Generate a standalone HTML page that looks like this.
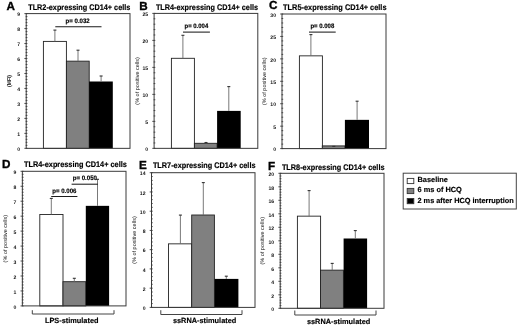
<!DOCTYPE html>
<html><head><meta charset="utf-8"><style>
html,body{margin:0;padding:0;background:#fff;}
svg{display:block;filter:blur(0.35px);}
text{font-family:"Liberation Sans", sans-serif;fill:#000;text-rendering:geometricPrecision;}
.L{font-size:11.7px;font-weight:bold;stroke:#000;stroke-width:0.35px;}
.T{font-size:8.1px;font-weight:bold;stroke:#000;stroke-width:0.18px;}
.N{font-size:5.1px;font-weight:bold;text-anchor:end;fill:#111;}
.Y{font-size:5.3px;text-anchor:middle;fill:#111;}
.YM{font-weight:bold;font-size:5.6px;}
.P{font-size:6.4px;font-weight:bold;stroke:#000;stroke-width:0.15px;}
.G{font-size:7.4px;font-weight:bold;stroke:#000;stroke-width:0.15px;}
.G2{font-size:7.5px;font-weight:bold;stroke:#000;stroke-width:0.15px;}
</style></head><body>
<svg width="520" height="327" viewBox="0 0 520 327">
<rect width="520" height="327" fill="#fff"/>
<text x="6.6" y="10.2" class="L">A</text>
<text x="28.2" y="9.5" class="T" textLength="102.1" lengthAdjust="spacingAndGlyphs">TLR2-expressing CD14+ cells</text>
<rect x="43.4" y="41.4" width="23" height="106.95" fill="#fff" stroke="#222" stroke-width="0.9"/>
<rect x="66.4" y="61.15" width="22.8" height="87.2" fill="#808080" stroke="#222" stroke-width="0.9"/>
<rect x="89.1" y="81.5" width="23.7" height="66.85" fill="#000"/>
<line x1="54.9" y1="30.1" x2="54.9" y2="41.4" stroke="#6a6a6a" stroke-width="0.9"/>
<line x1="53.4" y1="30.1" x2="56.4" y2="30.1" stroke="#333" stroke-width="1.1"/>
<line x1="78" y1="50.2" x2="78" y2="61.15" stroke="#6a6a6a" stroke-width="0.9"/>
<line x1="76.5" y1="50.2" x2="79.5" y2="50.2" stroke="#333" stroke-width="1.1"/>
<line x1="101.1" y1="76" x2="101.1" y2="81.5" stroke="#6a6a6a" stroke-width="0.9"/>
<line x1="99.6" y1="76" x2="102.6" y2="76" stroke="#333" stroke-width="1.1"/>
<rect x="26.2" y="13.6" width="103.8" height="134.75" fill="none" stroke="#3a3a3a" stroke-width="1"/>
<line x1="24.4" y1="148.35" x2="27.4" y2="148.35" stroke="#3a3a3a" stroke-width="0.9"/>
<line x1="25.7" y1="145.36" x2="27.4" y2="145.36" stroke="#3a3a3a" stroke-width="0.9"/>
<line x1="25.7" y1="142.36" x2="27.4" y2="142.36" stroke="#3a3a3a" stroke-width="0.9"/>
<line x1="25.7" y1="139.37" x2="27.4" y2="139.37" stroke="#3a3a3a" stroke-width="0.9"/>
<line x1="25.7" y1="136.37" x2="27.4" y2="136.37" stroke="#3a3a3a" stroke-width="0.9"/>
<line x1="24.4" y1="133.38" x2="27.4" y2="133.38" stroke="#3a3a3a" stroke-width="0.9"/>
<line x1="25.7" y1="130.38" x2="27.4" y2="130.38" stroke="#3a3a3a" stroke-width="0.9"/>
<line x1="25.7" y1="127.39" x2="27.4" y2="127.39" stroke="#3a3a3a" stroke-width="0.9"/>
<line x1="25.7" y1="124.39" x2="27.4" y2="124.39" stroke="#3a3a3a" stroke-width="0.9"/>
<line x1="25.7" y1="121.4" x2="27.4" y2="121.4" stroke="#3a3a3a" stroke-width="0.9"/>
<line x1="24.4" y1="118.41" x2="27.4" y2="118.41" stroke="#3a3a3a" stroke-width="0.9"/>
<line x1="25.7" y1="115.41" x2="27.4" y2="115.41" stroke="#3a3a3a" stroke-width="0.9"/>
<line x1="25.7" y1="112.42" x2="27.4" y2="112.42" stroke="#3a3a3a" stroke-width="0.9"/>
<line x1="25.7" y1="109.42" x2="27.4" y2="109.42" stroke="#3a3a3a" stroke-width="0.9"/>
<line x1="25.7" y1="106.43" x2="27.4" y2="106.43" stroke="#3a3a3a" stroke-width="0.9"/>
<line x1="24.4" y1="103.43" x2="27.4" y2="103.43" stroke="#3a3a3a" stroke-width="0.9"/>
<line x1="25.7" y1="100.44" x2="27.4" y2="100.44" stroke="#3a3a3a" stroke-width="0.9"/>
<line x1="25.7" y1="97.44" x2="27.4" y2="97.44" stroke="#3a3a3a" stroke-width="0.9"/>
<line x1="25.7" y1="94.45" x2="27.4" y2="94.45" stroke="#3a3a3a" stroke-width="0.9"/>
<line x1="25.7" y1="91.46" x2="27.4" y2="91.46" stroke="#3a3a3a" stroke-width="0.9"/>
<line x1="24.4" y1="88.46" x2="27.4" y2="88.46" stroke="#3a3a3a" stroke-width="0.9"/>
<line x1="25.7" y1="85.47" x2="27.4" y2="85.47" stroke="#3a3a3a" stroke-width="0.9"/>
<line x1="25.7" y1="82.47" x2="27.4" y2="82.47" stroke="#3a3a3a" stroke-width="0.9"/>
<line x1="25.7" y1="79.48" x2="27.4" y2="79.48" stroke="#3a3a3a" stroke-width="0.9"/>
<line x1="25.7" y1="76.48" x2="27.4" y2="76.48" stroke="#3a3a3a" stroke-width="0.9"/>
<line x1="24.4" y1="73.49" x2="27.4" y2="73.49" stroke="#3a3a3a" stroke-width="0.9"/>
<line x1="25.7" y1="70.49" x2="27.4" y2="70.49" stroke="#3a3a3a" stroke-width="0.9"/>
<line x1="25.7" y1="67.5" x2="27.4" y2="67.5" stroke="#3a3a3a" stroke-width="0.9"/>
<line x1="25.7" y1="64.51" x2="27.4" y2="64.51" stroke="#3a3a3a" stroke-width="0.9"/>
<line x1="25.7" y1="61.51" x2="27.4" y2="61.51" stroke="#3a3a3a" stroke-width="0.9"/>
<line x1="24.4" y1="58.52" x2="27.4" y2="58.52" stroke="#3a3a3a" stroke-width="0.9"/>
<line x1="25.7" y1="55.52" x2="27.4" y2="55.52" stroke="#3a3a3a" stroke-width="0.9"/>
<line x1="25.7" y1="52.53" x2="27.4" y2="52.53" stroke="#3a3a3a" stroke-width="0.9"/>
<line x1="25.7" y1="49.53" x2="27.4" y2="49.53" stroke="#3a3a3a" stroke-width="0.9"/>
<line x1="25.7" y1="46.54" x2="27.4" y2="46.54" stroke="#3a3a3a" stroke-width="0.9"/>
<line x1="24.4" y1="43.54" x2="27.4" y2="43.54" stroke="#3a3a3a" stroke-width="0.9"/>
<line x1="25.7" y1="40.55" x2="27.4" y2="40.55" stroke="#3a3a3a" stroke-width="0.9"/>
<line x1="25.7" y1="37.56" x2="27.4" y2="37.56" stroke="#3a3a3a" stroke-width="0.9"/>
<line x1="25.7" y1="34.56" x2="27.4" y2="34.56" stroke="#3a3a3a" stroke-width="0.9"/>
<line x1="25.7" y1="31.57" x2="27.4" y2="31.57" stroke="#3a3a3a" stroke-width="0.9"/>
<line x1="24.4" y1="28.57" x2="27.4" y2="28.57" stroke="#3a3a3a" stroke-width="0.9"/>
<line x1="25.7" y1="25.58" x2="27.4" y2="25.58" stroke="#3a3a3a" stroke-width="0.9"/>
<line x1="25.7" y1="22.58" x2="27.4" y2="22.58" stroke="#3a3a3a" stroke-width="0.9"/>
<line x1="25.7" y1="19.59" x2="27.4" y2="19.59" stroke="#3a3a3a" stroke-width="0.9"/>
<line x1="25.7" y1="16.59" x2="27.4" y2="16.59" stroke="#3a3a3a" stroke-width="0.9"/>
<line x1="24.4" y1="13.6" x2="27.4" y2="13.6" stroke="#3a3a3a" stroke-width="0.9"/>
<text x="20.2" y="151.05" class="N">0</text>
<text x="20.2" y="136.08" class="N">1</text>
<text x="20.2" y="121.11" class="N">2</text>
<text x="20.2" y="106.13" class="N">3</text>
<text x="20.2" y="91.16" class="N">4</text>
<text x="20.2" y="76.19" class="N">5</text>
<text x="20.2" y="61.22" class="N">6</text>
<text x="20.2" y="46.24" class="N">7</text>
<text x="20.2" y="31.27" class="N">8</text>
<text x="20.2" y="16.3" class="N">9</text>
<text x="0" y="0" class="Y YM" transform="translate(10.63,80.97) rotate(-90)" textLength="12.0" lengthAdjust="spacingAndGlyphs">(MFI)</text>
<line x1="55.3" y1="26.7" x2="101.5" y2="26.7" stroke="#1a1a1a" stroke-width="1.05"/>
<text x="65.6" y="22.8" class="P" textLength="24.14" lengthAdjust="spacingAndGlyphs">p= 0.032</text>
<text x="139.2" y="9.5" class="L">B</text>
<text x="155.9" y="9.5" class="T" textLength="102.1" lengthAdjust="spacingAndGlyphs">TLR4-expressing CD14+ cells</text>
<rect x="171.4" y="58.3" width="23" height="90.05" fill="#fff" stroke="#222" stroke-width="0.9"/>
<rect x="194.4" y="143.3" width="22.7" height="5.05" fill="#808080" stroke="#222" stroke-width="0.9"/>
<rect x="217.1" y="110.9" width="23.6" height="37.45" fill="#000"/>
<line x1="182.9" y1="35.3" x2="182.9" y2="58.3" stroke="#6a6a6a" stroke-width="0.9"/>
<line x1="181.4" y1="35.3" x2="184.4" y2="35.3" stroke="#333" stroke-width="1.1"/>
<line x1="206" y1="142.5" x2="206" y2="143.3" stroke="#6a6a6a" stroke-width="0.9"/>
<line x1="204.5" y1="142.5" x2="207.5" y2="142.5" stroke="#333" stroke-width="1.1"/>
<line x1="228.8" y1="86.6" x2="228.8" y2="110.9" stroke="#6a6a6a" stroke-width="0.9"/>
<line x1="227.3" y1="86.6" x2="230.3" y2="86.6" stroke="#333" stroke-width="1.1"/>
<rect x="154.1" y="13.4" width="103.7" height="134.95" fill="none" stroke="#3a3a3a" stroke-width="1"/>
<line x1="152.3" y1="148.35" x2="155.3" y2="148.35" stroke="#3a3a3a" stroke-width="0.9"/>
<line x1="153.6" y1="142.95" x2="155.3" y2="142.95" stroke="#3a3a3a" stroke-width="0.9"/>
<line x1="153.6" y1="137.55" x2="155.3" y2="137.55" stroke="#3a3a3a" stroke-width="0.9"/>
<line x1="153.6" y1="132.16" x2="155.3" y2="132.16" stroke="#3a3a3a" stroke-width="0.9"/>
<line x1="153.6" y1="126.76" x2="155.3" y2="126.76" stroke="#3a3a3a" stroke-width="0.9"/>
<line x1="152.3" y1="121.36" x2="155.3" y2="121.36" stroke="#3a3a3a" stroke-width="0.9"/>
<line x1="153.6" y1="115.96" x2="155.3" y2="115.96" stroke="#3a3a3a" stroke-width="0.9"/>
<line x1="153.6" y1="110.56" x2="155.3" y2="110.56" stroke="#3a3a3a" stroke-width="0.9"/>
<line x1="153.6" y1="105.17" x2="155.3" y2="105.17" stroke="#3a3a3a" stroke-width="0.9"/>
<line x1="153.6" y1="99.77" x2="155.3" y2="99.77" stroke="#3a3a3a" stroke-width="0.9"/>
<line x1="152.3" y1="94.37" x2="155.3" y2="94.37" stroke="#3a3a3a" stroke-width="0.9"/>
<line x1="153.6" y1="88.97" x2="155.3" y2="88.97" stroke="#3a3a3a" stroke-width="0.9"/>
<line x1="153.6" y1="83.57" x2="155.3" y2="83.57" stroke="#3a3a3a" stroke-width="0.9"/>
<line x1="153.6" y1="78.18" x2="155.3" y2="78.18" stroke="#3a3a3a" stroke-width="0.9"/>
<line x1="153.6" y1="72.78" x2="155.3" y2="72.78" stroke="#3a3a3a" stroke-width="0.9"/>
<line x1="152.3" y1="67.38" x2="155.3" y2="67.38" stroke="#3a3a3a" stroke-width="0.9"/>
<line x1="153.6" y1="61.98" x2="155.3" y2="61.98" stroke="#3a3a3a" stroke-width="0.9"/>
<line x1="153.6" y1="56.58" x2="155.3" y2="56.58" stroke="#3a3a3a" stroke-width="0.9"/>
<line x1="153.6" y1="51.19" x2="155.3" y2="51.19" stroke="#3a3a3a" stroke-width="0.9"/>
<line x1="153.6" y1="45.79" x2="155.3" y2="45.79" stroke="#3a3a3a" stroke-width="0.9"/>
<line x1="152.3" y1="40.39" x2="155.3" y2="40.39" stroke="#3a3a3a" stroke-width="0.9"/>
<line x1="153.6" y1="34.99" x2="155.3" y2="34.99" stroke="#3a3a3a" stroke-width="0.9"/>
<line x1="153.6" y1="29.59" x2="155.3" y2="29.59" stroke="#3a3a3a" stroke-width="0.9"/>
<line x1="153.6" y1="24.2" x2="155.3" y2="24.2" stroke="#3a3a3a" stroke-width="0.9"/>
<line x1="153.6" y1="18.8" x2="155.3" y2="18.8" stroke="#3a3a3a" stroke-width="0.9"/>
<line x1="152.3" y1="13.4" x2="155.3" y2="13.4" stroke="#3a3a3a" stroke-width="0.9"/>
<text x="148.1" y="151.05" class="N">0</text>
<text x="148.1" y="124.06" class="N">5</text>
<text x="148.1" y="97.07" class="N">10</text>
<text x="148.1" y="70.08" class="N">15</text>
<text x="148.1" y="43.09" class="N">20</text>
<text x="148.1" y="16.1" class="N">25</text>
<text x="0" y="0" class="Y" transform="translate(138.63,80.88) rotate(-90)" textLength="47.6" lengthAdjust="spacingAndGlyphs">(% of positive cells)</text>
<line x1="183" y1="32.1" x2="209.9" y2="32.1" stroke="#1a1a1a" stroke-width="1.05"/>
<text x="184.5" y="27.8" class="P" textLength="23.74" lengthAdjust="spacingAndGlyphs">p= 0.004</text>
<text x="268.9" y="9.1" class="L">C</text>
<text x="283.1" y="9.6" class="T" textLength="103.4" lengthAdjust="spacingAndGlyphs">TLR5-expressing CD14+ cells</text>
<rect x="299.4" y="55.85" width="23" height="92.75" fill="#fff" stroke="#222" stroke-width="0.9"/>
<rect x="322.3" y="145.9" width="22.7" height="2.7" fill="#808080" stroke="#222" stroke-width="0.9"/>
<rect x="344.9" y="119.85" width="24.1" height="28.75" fill="#000"/>
<line x1="310.9" y1="34.6" x2="310.9" y2="55.85" stroke="#6a6a6a" stroke-width="0.9"/>
<line x1="309.4" y1="34.6" x2="312.4" y2="34.6" stroke="#333" stroke-width="1.1"/>
<line x1="332.3" y1="146.4" x2="335.3" y2="146.4" stroke="#333" stroke-width="1.1"/>
<line x1="357.1" y1="101.2" x2="357.1" y2="119.85" stroke="#6a6a6a" stroke-width="0.9"/>
<line x1="355.6" y1="101.2" x2="358.6" y2="101.2" stroke="#333" stroke-width="1.1"/>
<rect x="282" y="14" width="104" height="134.6" fill="none" stroke="#3a3a3a" stroke-width="1"/>
<line x1="280.2" y1="148.6" x2="283.2" y2="148.6" stroke="#3a3a3a" stroke-width="0.9"/>
<line x1="281.5" y1="144.11" x2="283.2" y2="144.11" stroke="#3a3a3a" stroke-width="0.9"/>
<line x1="281.5" y1="139.63" x2="283.2" y2="139.63" stroke="#3a3a3a" stroke-width="0.9"/>
<line x1="281.5" y1="135.14" x2="283.2" y2="135.14" stroke="#3a3a3a" stroke-width="0.9"/>
<line x1="281.5" y1="130.65" x2="283.2" y2="130.65" stroke="#3a3a3a" stroke-width="0.9"/>
<line x1="280.2" y1="126.17" x2="283.2" y2="126.17" stroke="#3a3a3a" stroke-width="0.9"/>
<line x1="281.5" y1="121.68" x2="283.2" y2="121.68" stroke="#3a3a3a" stroke-width="0.9"/>
<line x1="281.5" y1="117.19" x2="283.2" y2="117.19" stroke="#3a3a3a" stroke-width="0.9"/>
<line x1="281.5" y1="112.71" x2="283.2" y2="112.71" stroke="#3a3a3a" stroke-width="0.9"/>
<line x1="281.5" y1="108.22" x2="283.2" y2="108.22" stroke="#3a3a3a" stroke-width="0.9"/>
<line x1="280.2" y1="103.73" x2="283.2" y2="103.73" stroke="#3a3a3a" stroke-width="0.9"/>
<line x1="281.5" y1="99.25" x2="283.2" y2="99.25" stroke="#3a3a3a" stroke-width="0.9"/>
<line x1="281.5" y1="94.76" x2="283.2" y2="94.76" stroke="#3a3a3a" stroke-width="0.9"/>
<line x1="281.5" y1="90.27" x2="283.2" y2="90.27" stroke="#3a3a3a" stroke-width="0.9"/>
<line x1="281.5" y1="85.79" x2="283.2" y2="85.79" stroke="#3a3a3a" stroke-width="0.9"/>
<line x1="280.2" y1="81.3" x2="283.2" y2="81.3" stroke="#3a3a3a" stroke-width="0.9"/>
<line x1="281.5" y1="76.81" x2="283.2" y2="76.81" stroke="#3a3a3a" stroke-width="0.9"/>
<line x1="281.5" y1="72.33" x2="283.2" y2="72.33" stroke="#3a3a3a" stroke-width="0.9"/>
<line x1="281.5" y1="67.84" x2="283.2" y2="67.84" stroke="#3a3a3a" stroke-width="0.9"/>
<line x1="281.5" y1="63.35" x2="283.2" y2="63.35" stroke="#3a3a3a" stroke-width="0.9"/>
<line x1="280.2" y1="58.87" x2="283.2" y2="58.87" stroke="#3a3a3a" stroke-width="0.9"/>
<line x1="281.5" y1="54.38" x2="283.2" y2="54.38" stroke="#3a3a3a" stroke-width="0.9"/>
<line x1="281.5" y1="49.89" x2="283.2" y2="49.89" stroke="#3a3a3a" stroke-width="0.9"/>
<line x1="281.5" y1="45.41" x2="283.2" y2="45.41" stroke="#3a3a3a" stroke-width="0.9"/>
<line x1="281.5" y1="40.92" x2="283.2" y2="40.92" stroke="#3a3a3a" stroke-width="0.9"/>
<line x1="280.2" y1="36.43" x2="283.2" y2="36.43" stroke="#3a3a3a" stroke-width="0.9"/>
<line x1="281.5" y1="31.95" x2="283.2" y2="31.95" stroke="#3a3a3a" stroke-width="0.9"/>
<line x1="281.5" y1="27.46" x2="283.2" y2="27.46" stroke="#3a3a3a" stroke-width="0.9"/>
<line x1="281.5" y1="22.97" x2="283.2" y2="22.97" stroke="#3a3a3a" stroke-width="0.9"/>
<line x1="281.5" y1="18.49" x2="283.2" y2="18.49" stroke="#3a3a3a" stroke-width="0.9"/>
<line x1="280.2" y1="14" x2="283.2" y2="14" stroke="#3a3a3a" stroke-width="0.9"/>
<text x="276" y="151.3" class="N">0</text>
<text x="276" y="128.87" class="N">5</text>
<text x="276" y="106.43" class="N">10</text>
<text x="276" y="84" class="N">15</text>
<text x="276" y="61.57" class="N">20</text>
<text x="276" y="39.13" class="N">25</text>
<text x="276" y="16.7" class="N">30</text>
<text x="0" y="0" class="Y" transform="translate(266.03,81.3) rotate(-90)" textLength="47.6" lengthAdjust="spacingAndGlyphs">(% of positive cells)</text>
<line x1="309" y1="32.1" x2="335.7" y2="32.1" stroke="#1a1a1a" stroke-width="1.05"/>
<text x="310.4" y="27.8" class="P" textLength="23.84" lengthAdjust="spacingAndGlyphs">p= 0.008</text>
<text x="2.1" y="167.6" class="L">D</text>
<text x="24" y="166.9" class="T" textLength="102.8" lengthAdjust="spacingAndGlyphs">TLR4-expressing CD14+ cells</text>
<rect x="39.8" y="214.45" width="23.2" height="91.45" fill="#fff" stroke="#222" stroke-width="0.9"/>
<rect x="63" y="281.7" width="22.8" height="24.2" fill="#808080" stroke="#222" stroke-width="0.9"/>
<rect x="85.8" y="205.85" width="23.3" height="100.05" fill="#000"/>
<line x1="51.3" y1="198.4" x2="51.3" y2="214.45" stroke="#6a6a6a" stroke-width="0.9"/>
<line x1="49.8" y1="198.4" x2="52.8" y2="198.4" stroke="#333" stroke-width="1.1"/>
<line x1="74.3" y1="278.3" x2="74.3" y2="281.7" stroke="#6a6a6a" stroke-width="0.9"/>
<line x1="72.8" y1="278.3" x2="75.8" y2="278.3" stroke="#333" stroke-width="1.1"/>
<line x1="97.5" y1="179.3" x2="97.5" y2="205.85" stroke="#6a6a6a" stroke-width="0.9"/>
<line x1="96" y1="179.3" x2="99" y2="179.3" stroke="#333" stroke-width="1.1"/>
<rect x="22.35" y="171.3" width="103.65" height="134.6" fill="none" stroke="#3a3a3a" stroke-width="1"/>
<line x1="20.55" y1="305.9" x2="23.55" y2="305.9" stroke="#3a3a3a" stroke-width="0.9"/>
<line x1="21.85" y1="302.91" x2="23.55" y2="302.91" stroke="#3a3a3a" stroke-width="0.9"/>
<line x1="21.85" y1="299.92" x2="23.55" y2="299.92" stroke="#3a3a3a" stroke-width="0.9"/>
<line x1="21.85" y1="296.93" x2="23.55" y2="296.93" stroke="#3a3a3a" stroke-width="0.9"/>
<line x1="21.85" y1="293.94" x2="23.55" y2="293.94" stroke="#3a3a3a" stroke-width="0.9"/>
<line x1="20.55" y1="290.94" x2="23.55" y2="290.94" stroke="#3a3a3a" stroke-width="0.9"/>
<line x1="21.85" y1="287.95" x2="23.55" y2="287.95" stroke="#3a3a3a" stroke-width="0.9"/>
<line x1="21.85" y1="284.96" x2="23.55" y2="284.96" stroke="#3a3a3a" stroke-width="0.9"/>
<line x1="21.85" y1="281.97" x2="23.55" y2="281.97" stroke="#3a3a3a" stroke-width="0.9"/>
<line x1="21.85" y1="278.98" x2="23.55" y2="278.98" stroke="#3a3a3a" stroke-width="0.9"/>
<line x1="20.55" y1="275.99" x2="23.55" y2="275.99" stroke="#3a3a3a" stroke-width="0.9"/>
<line x1="21.85" y1="273" x2="23.55" y2="273" stroke="#3a3a3a" stroke-width="0.9"/>
<line x1="21.85" y1="270.01" x2="23.55" y2="270.01" stroke="#3a3a3a" stroke-width="0.9"/>
<line x1="21.85" y1="267.02" x2="23.55" y2="267.02" stroke="#3a3a3a" stroke-width="0.9"/>
<line x1="21.85" y1="264.02" x2="23.55" y2="264.02" stroke="#3a3a3a" stroke-width="0.9"/>
<line x1="20.55" y1="261.03" x2="23.55" y2="261.03" stroke="#3a3a3a" stroke-width="0.9"/>
<line x1="21.85" y1="258.04" x2="23.55" y2="258.04" stroke="#3a3a3a" stroke-width="0.9"/>
<line x1="21.85" y1="255.05" x2="23.55" y2="255.05" stroke="#3a3a3a" stroke-width="0.9"/>
<line x1="21.85" y1="252.06" x2="23.55" y2="252.06" stroke="#3a3a3a" stroke-width="0.9"/>
<line x1="21.85" y1="249.07" x2="23.55" y2="249.07" stroke="#3a3a3a" stroke-width="0.9"/>
<line x1="20.55" y1="246.08" x2="23.55" y2="246.08" stroke="#3a3a3a" stroke-width="0.9"/>
<line x1="21.85" y1="243.09" x2="23.55" y2="243.09" stroke="#3a3a3a" stroke-width="0.9"/>
<line x1="21.85" y1="240.1" x2="23.55" y2="240.1" stroke="#3a3a3a" stroke-width="0.9"/>
<line x1="21.85" y1="237.1" x2="23.55" y2="237.1" stroke="#3a3a3a" stroke-width="0.9"/>
<line x1="21.85" y1="234.11" x2="23.55" y2="234.11" stroke="#3a3a3a" stroke-width="0.9"/>
<line x1="20.55" y1="231.12" x2="23.55" y2="231.12" stroke="#3a3a3a" stroke-width="0.9"/>
<line x1="21.85" y1="228.13" x2="23.55" y2="228.13" stroke="#3a3a3a" stroke-width="0.9"/>
<line x1="21.85" y1="225.14" x2="23.55" y2="225.14" stroke="#3a3a3a" stroke-width="0.9"/>
<line x1="21.85" y1="222.15" x2="23.55" y2="222.15" stroke="#3a3a3a" stroke-width="0.9"/>
<line x1="21.85" y1="219.16" x2="23.55" y2="219.16" stroke="#3a3a3a" stroke-width="0.9"/>
<line x1="20.55" y1="216.17" x2="23.55" y2="216.17" stroke="#3a3a3a" stroke-width="0.9"/>
<line x1="21.85" y1="213.18" x2="23.55" y2="213.18" stroke="#3a3a3a" stroke-width="0.9"/>
<line x1="21.85" y1="210.18" x2="23.55" y2="210.18" stroke="#3a3a3a" stroke-width="0.9"/>
<line x1="21.85" y1="207.19" x2="23.55" y2="207.19" stroke="#3a3a3a" stroke-width="0.9"/>
<line x1="21.85" y1="204.2" x2="23.55" y2="204.2" stroke="#3a3a3a" stroke-width="0.9"/>
<line x1="20.55" y1="201.21" x2="23.55" y2="201.21" stroke="#3a3a3a" stroke-width="0.9"/>
<line x1="21.85" y1="198.22" x2="23.55" y2="198.22" stroke="#3a3a3a" stroke-width="0.9"/>
<line x1="21.85" y1="195.23" x2="23.55" y2="195.23" stroke="#3a3a3a" stroke-width="0.9"/>
<line x1="21.85" y1="192.24" x2="23.55" y2="192.24" stroke="#3a3a3a" stroke-width="0.9"/>
<line x1="21.85" y1="189.25" x2="23.55" y2="189.25" stroke="#3a3a3a" stroke-width="0.9"/>
<line x1="20.55" y1="186.26" x2="23.55" y2="186.26" stroke="#3a3a3a" stroke-width="0.9"/>
<line x1="21.85" y1="183.26" x2="23.55" y2="183.26" stroke="#3a3a3a" stroke-width="0.9"/>
<line x1="21.85" y1="180.27" x2="23.55" y2="180.27" stroke="#3a3a3a" stroke-width="0.9"/>
<line x1="21.85" y1="177.28" x2="23.55" y2="177.28" stroke="#3a3a3a" stroke-width="0.9"/>
<line x1="21.85" y1="174.29" x2="23.55" y2="174.29" stroke="#3a3a3a" stroke-width="0.9"/>
<line x1="20.55" y1="171.3" x2="23.55" y2="171.3" stroke="#3a3a3a" stroke-width="0.9"/>
<text x="16.35" y="308.6" class="N">0</text>
<text x="16.35" y="293.64" class="N">1</text>
<text x="16.35" y="278.69" class="N">2</text>
<text x="16.35" y="263.73" class="N">3</text>
<text x="16.35" y="248.78" class="N">4</text>
<text x="16.35" y="233.82" class="N">5</text>
<text x="16.35" y="218.87" class="N">6</text>
<text x="16.35" y="203.91" class="N">7</text>
<text x="16.35" y="188.96" class="N">8</text>
<text x="16.35" y="174" class="N">9</text>
<text x="0" y="0" class="Y" transform="translate(6.93,238.6) rotate(-90)" textLength="47.6" lengthAdjust="spacingAndGlyphs">(% of positive cells)</text>
<line x1="51.2" y1="196.5" x2="77.4" y2="196.5" stroke="#1a1a1a" stroke-width="1.05"/>
<text x="52.3" y="192.5" class="P" textLength="24.14" lengthAdjust="spacingAndGlyphs">p= 0.006</text>
<line x1="71.6" y1="184.2" x2="97.9" y2="184.2" stroke="#1a1a1a" stroke-width="1.05"/>
<text x="72.7" y="180.1" class="P" textLength="24.24" lengthAdjust="spacingAndGlyphs">p= 0.050</text>
<path d="M32.3,310.2 V314 H114 V310.2" fill="none" stroke="#444" stroke-width="1"/>
<text x="44.9" y="323.2" class="G2" textLength="53.6" lengthAdjust="spacingAndGlyphs">LPS-stimulated</text>
<text x="139" y="168.6" class="L">E</text>
<text x="152.9" y="167.8" class="T" textLength="102.6" lengthAdjust="spacingAndGlyphs">TLR7-expressing CD14+ cells</text>
<rect x="168.5" y="243.85" width="23.2" height="63.55" fill="#fff" stroke="#222" stroke-width="0.9"/>
<rect x="191.7" y="215" width="22.7" height="92.4" fill="#808080" stroke="#222" stroke-width="0.9"/>
<rect x="214.6" y="278.9" width="23.8" height="28.5" fill="#000"/>
<line x1="180.4" y1="215.1" x2="180.4" y2="243.85" stroke="#6a6a6a" stroke-width="0.9"/>
<line x1="178.9" y1="215.1" x2="181.9" y2="215.1" stroke="#333" stroke-width="1.1"/>
<line x1="203.3" y1="182.6" x2="203.3" y2="215" stroke="#6a6a6a" stroke-width="0.9"/>
<line x1="201.8" y1="182.6" x2="204.8" y2="182.6" stroke="#333" stroke-width="1.1"/>
<line x1="226.3" y1="276.2" x2="226.3" y2="278.9" stroke="#6a6a6a" stroke-width="0.9"/>
<line x1="224.8" y1="276.2" x2="227.8" y2="276.2" stroke="#333" stroke-width="1.1"/>
<rect x="151.5" y="172.7" width="103.5" height="134.7" fill="none" stroke="#3a3a3a" stroke-width="1"/>
<line x1="149.7" y1="307.4" x2="152.7" y2="307.4" stroke="#3a3a3a" stroke-width="0.9"/>
<line x1="151" y1="303.55" x2="152.7" y2="303.55" stroke="#3a3a3a" stroke-width="0.9"/>
<line x1="151" y1="299.7" x2="152.7" y2="299.7" stroke="#3a3a3a" stroke-width="0.9"/>
<line x1="151" y1="295.85" x2="152.7" y2="295.85" stroke="#3a3a3a" stroke-width="0.9"/>
<line x1="151" y1="292.01" x2="152.7" y2="292.01" stroke="#3a3a3a" stroke-width="0.9"/>
<line x1="149.7" y1="288.16" x2="152.7" y2="288.16" stroke="#3a3a3a" stroke-width="0.9"/>
<line x1="151" y1="284.31" x2="152.7" y2="284.31" stroke="#3a3a3a" stroke-width="0.9"/>
<line x1="151" y1="280.46" x2="152.7" y2="280.46" stroke="#3a3a3a" stroke-width="0.9"/>
<line x1="151" y1="276.61" x2="152.7" y2="276.61" stroke="#3a3a3a" stroke-width="0.9"/>
<line x1="151" y1="272.76" x2="152.7" y2="272.76" stroke="#3a3a3a" stroke-width="0.9"/>
<line x1="149.7" y1="268.91" x2="152.7" y2="268.91" stroke="#3a3a3a" stroke-width="0.9"/>
<line x1="151" y1="265.07" x2="152.7" y2="265.07" stroke="#3a3a3a" stroke-width="0.9"/>
<line x1="151" y1="261.22" x2="152.7" y2="261.22" stroke="#3a3a3a" stroke-width="0.9"/>
<line x1="151" y1="257.37" x2="152.7" y2="257.37" stroke="#3a3a3a" stroke-width="0.9"/>
<line x1="151" y1="253.52" x2="152.7" y2="253.52" stroke="#3a3a3a" stroke-width="0.9"/>
<line x1="149.7" y1="249.67" x2="152.7" y2="249.67" stroke="#3a3a3a" stroke-width="0.9"/>
<line x1="151" y1="245.82" x2="152.7" y2="245.82" stroke="#3a3a3a" stroke-width="0.9"/>
<line x1="151" y1="241.97" x2="152.7" y2="241.97" stroke="#3a3a3a" stroke-width="0.9"/>
<line x1="151" y1="238.13" x2="152.7" y2="238.13" stroke="#3a3a3a" stroke-width="0.9"/>
<line x1="151" y1="234.28" x2="152.7" y2="234.28" stroke="#3a3a3a" stroke-width="0.9"/>
<line x1="149.7" y1="230.43" x2="152.7" y2="230.43" stroke="#3a3a3a" stroke-width="0.9"/>
<line x1="151" y1="226.58" x2="152.7" y2="226.58" stroke="#3a3a3a" stroke-width="0.9"/>
<line x1="151" y1="222.73" x2="152.7" y2="222.73" stroke="#3a3a3a" stroke-width="0.9"/>
<line x1="151" y1="218.88" x2="152.7" y2="218.88" stroke="#3a3a3a" stroke-width="0.9"/>
<line x1="151" y1="215.03" x2="152.7" y2="215.03" stroke="#3a3a3a" stroke-width="0.9"/>
<line x1="149.7" y1="211.19" x2="152.7" y2="211.19" stroke="#3a3a3a" stroke-width="0.9"/>
<line x1="151" y1="207.34" x2="152.7" y2="207.34" stroke="#3a3a3a" stroke-width="0.9"/>
<line x1="151" y1="203.49" x2="152.7" y2="203.49" stroke="#3a3a3a" stroke-width="0.9"/>
<line x1="151" y1="199.64" x2="152.7" y2="199.64" stroke="#3a3a3a" stroke-width="0.9"/>
<line x1="151" y1="195.79" x2="152.7" y2="195.79" stroke="#3a3a3a" stroke-width="0.9"/>
<line x1="149.7" y1="191.94" x2="152.7" y2="191.94" stroke="#3a3a3a" stroke-width="0.9"/>
<line x1="151" y1="188.09" x2="152.7" y2="188.09" stroke="#3a3a3a" stroke-width="0.9"/>
<line x1="151" y1="184.25" x2="152.7" y2="184.25" stroke="#3a3a3a" stroke-width="0.9"/>
<line x1="151" y1="180.4" x2="152.7" y2="180.4" stroke="#3a3a3a" stroke-width="0.9"/>
<line x1="151" y1="176.55" x2="152.7" y2="176.55" stroke="#3a3a3a" stroke-width="0.9"/>
<line x1="149.7" y1="172.7" x2="152.7" y2="172.7" stroke="#3a3a3a" stroke-width="0.9"/>
<text x="145.5" y="310.1" class="N">0</text>
<text x="145.5" y="290.86" class="N">2</text>
<text x="145.5" y="271.61" class="N">4</text>
<text x="145.5" y="252.37" class="N">6</text>
<text x="145.5" y="233.13" class="N">8</text>
<text x="145.5" y="213.89" class="N">10</text>
<text x="145.5" y="194.64" class="N">12</text>
<text x="145.5" y="175.4" class="N">14</text>
<text x="0" y="0" class="Y" transform="translate(136.03,240.05) rotate(-90)" textLength="47.6" lengthAdjust="spacingAndGlyphs">(% of positive cells)</text>
<path d="M160.8,310.2 V314.5 H242 V310.2" fill="none" stroke="#444" stroke-width="1"/>
<text x="172.9" y="323.2" class="G2" textLength="63.4" lengthAdjust="spacingAndGlyphs">ssRNA-stimulated</text>
<text x="268.1" y="169.8" class="L">F</text>
<text x="281.9" y="169.5" class="T" textLength="102.6" lengthAdjust="spacingAndGlyphs">TLR8-expressing CD14+ cells</text>
<rect x="297.4" y="216.15" width="23.2" height="92.15" fill="#fff" stroke="#222" stroke-width="0.9"/>
<rect x="320.5" y="270.15" width="22.9" height="38.15" fill="#808080" stroke="#222" stroke-width="0.9"/>
<rect x="343.6" y="238.5" width="23.5" height="69.8" fill="#000"/>
<line x1="309.1" y1="190.6" x2="309.1" y2="216.15" stroke="#6a6a6a" stroke-width="0.9"/>
<line x1="307.6" y1="190.6" x2="310.6" y2="190.6" stroke="#333" stroke-width="1.1"/>
<line x1="332.2" y1="263.4" x2="332.2" y2="270.15" stroke="#6a6a6a" stroke-width="0.9"/>
<line x1="330.7" y1="263.4" x2="333.7" y2="263.4" stroke="#333" stroke-width="1.1"/>
<line x1="355.3" y1="230.6" x2="355.3" y2="238.5" stroke="#6a6a6a" stroke-width="0.9"/>
<line x1="353.8" y1="230.6" x2="356.8" y2="230.6" stroke="#333" stroke-width="1.1"/>
<rect x="280.2" y="173.3" width="103.8" height="135" fill="none" stroke="#3a3a3a" stroke-width="1"/>
<line x1="278.4" y1="308.3" x2="281.4" y2="308.3" stroke="#3a3a3a" stroke-width="0.9"/>
<line x1="279.7" y1="305.6" x2="281.4" y2="305.6" stroke="#3a3a3a" stroke-width="0.9"/>
<line x1="279.7" y1="302.9" x2="281.4" y2="302.9" stroke="#3a3a3a" stroke-width="0.9"/>
<line x1="279.7" y1="300.2" x2="281.4" y2="300.2" stroke="#3a3a3a" stroke-width="0.9"/>
<line x1="279.7" y1="297.5" x2="281.4" y2="297.5" stroke="#3a3a3a" stroke-width="0.9"/>
<line x1="278.4" y1="294.8" x2="281.4" y2="294.8" stroke="#3a3a3a" stroke-width="0.9"/>
<line x1="279.7" y1="292.1" x2="281.4" y2="292.1" stroke="#3a3a3a" stroke-width="0.9"/>
<line x1="279.7" y1="289.4" x2="281.4" y2="289.4" stroke="#3a3a3a" stroke-width="0.9"/>
<line x1="279.7" y1="286.7" x2="281.4" y2="286.7" stroke="#3a3a3a" stroke-width="0.9"/>
<line x1="279.7" y1="284" x2="281.4" y2="284" stroke="#3a3a3a" stroke-width="0.9"/>
<line x1="278.4" y1="281.3" x2="281.4" y2="281.3" stroke="#3a3a3a" stroke-width="0.9"/>
<line x1="279.7" y1="278.6" x2="281.4" y2="278.6" stroke="#3a3a3a" stroke-width="0.9"/>
<line x1="279.7" y1="275.9" x2="281.4" y2="275.9" stroke="#3a3a3a" stroke-width="0.9"/>
<line x1="279.7" y1="273.2" x2="281.4" y2="273.2" stroke="#3a3a3a" stroke-width="0.9"/>
<line x1="279.7" y1="270.5" x2="281.4" y2="270.5" stroke="#3a3a3a" stroke-width="0.9"/>
<line x1="278.4" y1="267.8" x2="281.4" y2="267.8" stroke="#3a3a3a" stroke-width="0.9"/>
<line x1="279.7" y1="265.1" x2="281.4" y2="265.1" stroke="#3a3a3a" stroke-width="0.9"/>
<line x1="279.7" y1="262.4" x2="281.4" y2="262.4" stroke="#3a3a3a" stroke-width="0.9"/>
<line x1="279.7" y1="259.7" x2="281.4" y2="259.7" stroke="#3a3a3a" stroke-width="0.9"/>
<line x1="279.7" y1="257" x2="281.4" y2="257" stroke="#3a3a3a" stroke-width="0.9"/>
<line x1="278.4" y1="254.3" x2="281.4" y2="254.3" stroke="#3a3a3a" stroke-width="0.9"/>
<line x1="279.7" y1="251.6" x2="281.4" y2="251.6" stroke="#3a3a3a" stroke-width="0.9"/>
<line x1="279.7" y1="248.9" x2="281.4" y2="248.9" stroke="#3a3a3a" stroke-width="0.9"/>
<line x1="279.7" y1="246.2" x2="281.4" y2="246.2" stroke="#3a3a3a" stroke-width="0.9"/>
<line x1="279.7" y1="243.5" x2="281.4" y2="243.5" stroke="#3a3a3a" stroke-width="0.9"/>
<line x1="278.4" y1="240.8" x2="281.4" y2="240.8" stroke="#3a3a3a" stroke-width="0.9"/>
<line x1="279.7" y1="238.1" x2="281.4" y2="238.1" stroke="#3a3a3a" stroke-width="0.9"/>
<line x1="279.7" y1="235.4" x2="281.4" y2="235.4" stroke="#3a3a3a" stroke-width="0.9"/>
<line x1="279.7" y1="232.7" x2="281.4" y2="232.7" stroke="#3a3a3a" stroke-width="0.9"/>
<line x1="279.7" y1="230" x2="281.4" y2="230" stroke="#3a3a3a" stroke-width="0.9"/>
<line x1="278.4" y1="227.3" x2="281.4" y2="227.3" stroke="#3a3a3a" stroke-width="0.9"/>
<line x1="279.7" y1="224.6" x2="281.4" y2="224.6" stroke="#3a3a3a" stroke-width="0.9"/>
<line x1="279.7" y1="221.9" x2="281.4" y2="221.9" stroke="#3a3a3a" stroke-width="0.9"/>
<line x1="279.7" y1="219.2" x2="281.4" y2="219.2" stroke="#3a3a3a" stroke-width="0.9"/>
<line x1="279.7" y1="216.5" x2="281.4" y2="216.5" stroke="#3a3a3a" stroke-width="0.9"/>
<line x1="278.4" y1="213.8" x2="281.4" y2="213.8" stroke="#3a3a3a" stroke-width="0.9"/>
<line x1="279.7" y1="211.1" x2="281.4" y2="211.1" stroke="#3a3a3a" stroke-width="0.9"/>
<line x1="279.7" y1="208.4" x2="281.4" y2="208.4" stroke="#3a3a3a" stroke-width="0.9"/>
<line x1="279.7" y1="205.7" x2="281.4" y2="205.7" stroke="#3a3a3a" stroke-width="0.9"/>
<line x1="279.7" y1="203" x2="281.4" y2="203" stroke="#3a3a3a" stroke-width="0.9"/>
<line x1="278.4" y1="200.3" x2="281.4" y2="200.3" stroke="#3a3a3a" stroke-width="0.9"/>
<line x1="279.7" y1="197.6" x2="281.4" y2="197.6" stroke="#3a3a3a" stroke-width="0.9"/>
<line x1="279.7" y1="194.9" x2="281.4" y2="194.9" stroke="#3a3a3a" stroke-width="0.9"/>
<line x1="279.7" y1="192.2" x2="281.4" y2="192.2" stroke="#3a3a3a" stroke-width="0.9"/>
<line x1="279.7" y1="189.5" x2="281.4" y2="189.5" stroke="#3a3a3a" stroke-width="0.9"/>
<line x1="278.4" y1="186.8" x2="281.4" y2="186.8" stroke="#3a3a3a" stroke-width="0.9"/>
<line x1="279.7" y1="184.1" x2="281.4" y2="184.1" stroke="#3a3a3a" stroke-width="0.9"/>
<line x1="279.7" y1="181.4" x2="281.4" y2="181.4" stroke="#3a3a3a" stroke-width="0.9"/>
<line x1="279.7" y1="178.7" x2="281.4" y2="178.7" stroke="#3a3a3a" stroke-width="0.9"/>
<line x1="279.7" y1="176" x2="281.4" y2="176" stroke="#3a3a3a" stroke-width="0.9"/>
<line x1="278.4" y1="173.3" x2="281.4" y2="173.3" stroke="#3a3a3a" stroke-width="0.9"/>
<text x="274.2" y="311" class="N">0</text>
<text x="274.2" y="297.5" class="N">2</text>
<text x="274.2" y="284" class="N">4</text>
<text x="274.2" y="270.5" class="N">6</text>
<text x="274.2" y="257" class="N">8</text>
<text x="274.2" y="243.5" class="N">10</text>
<text x="274.2" y="230" class="N">12</text>
<text x="274.2" y="216.5" class="N">14</text>
<text x="274.2" y="203" class="N">16</text>
<text x="274.2" y="189.5" class="N">18</text>
<text x="274.2" y="176" class="N">20</text>
<text x="0" y="0" class="Y" transform="translate(264.23,240.8) rotate(-90)" textLength="47.6" lengthAdjust="spacingAndGlyphs">(% of positive cells)</text>
<path d="M294.8,310.5 V315 H376 V310.5" fill="none" stroke="#444" stroke-width="1"/>
<text x="306.9" y="323.7" class="G2" textLength="63.4" lengthAdjust="spacingAndGlyphs">ssRNA-stimulated</text>
<rect x="403.2" y="173.2" width="113.1" height="35.8" fill="#fff" stroke="#444" stroke-width="1"/>
<rect x="407.2" y="178.4" width="6.6" height="5.2" fill="#fff" stroke="#333" stroke-width="0.9"/>
<text x="417.5" y="182.3" class="G">Baseline</text>
<rect x="407.2" y="188.4" width="6.6" height="5.2" fill="#808080" stroke="#333" stroke-width="0.9"/>
<text x="417.5" y="192.4" class="G">6 ms of HCQ</text>
<rect x="407.2" y="198.5" width="6.6" height="5.2" fill="#000" stroke="#333" stroke-width="0.9"/>
<text x="417.5" y="202.5" class="G" textLength="96.2" lengthAdjust="spacingAndGlyphs">2 ms after HCQ interruption</text>
</svg>
</body></html>
